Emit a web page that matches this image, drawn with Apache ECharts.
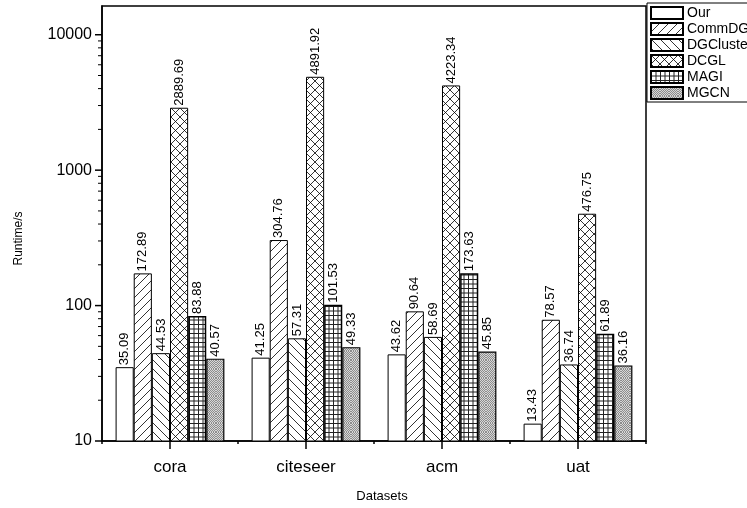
<!DOCTYPE html>
<html>
<head>
<meta charset="utf-8">
<script src="https://cdn.jsdelivr.net/npm/echarts@6/dist/echarts.min.js"></script>
<style>html,body{margin:0;padding:0;background:#fff;}#c{width:747px;height:508px;}</style>
</head>
<body>
<div id="c"></div>
<script>
var categories = ['cora', 'citeseer', 'acm', 'uat'];
var seriesNames = ['Our', 'CommDGC', 'DGCluster', 'DCGL', 'MAGI', 'MGCN'];
var ourVals = [35.09, 41.25, 43.62, 13.43];
var commdgcVals = [172.89, 304.76, 90.64, 78.57];
var dgclusterVals = [44.53, 57.31, 58.69, 36.74];
var dcglVals = [2889.69, 4891.92, 4223.34, 476.75];
var magiVals = [83.88, 101.53, 173.63, 61.89];
var mgcnVals = [40.57, 49.33, 45.85, 36.16];
var yTickLabels = [10, 100, 1000, 10000];
var yMinorTicks = [20, 30, 40, 50, 60, 70, 80, 90,
                   200, 300, 400, 500, 600, 700, 800, 900,
                   2000, 3000, 4000, 5000, 6000, 7000, 8000, 9000];

function makePattern(kind) {
  var s = 9;
  var cv = document.createElement('canvas');
  cv.width = s; cv.height = s;
  var g = cv.getContext('2d');
  g.fillStyle = '#fff';
  g.fillRect(0, 0, s, s);
  g.strokeStyle = '#000';
  g.lineWidth = 0.8;
  function line(x1, y1, x2, y2) { g.beginPath(); g.moveTo(x1, y1); g.lineTo(x2, y2); g.stroke(); }
  if (kind === 'fwd' || kind === 'cross') {
    line(-1, s + 1, s + 1, -1);
    line(-1, 1, 1, -1);
    line(s - 1, s + 1, s + 1, s - 1);
  }
  if (kind === 'back' || kind === 'cross') {
    line(-1, -1, s + 1, s + 1);
    line(s - 1, -1, s + 1, 1);
    line(-1, s - 1, 1, s + 1);
  }
  if (kind === 'grid') {
    g.lineWidth = 1;
    g.strokeStyle = '#222';
    line(0.5, 0, 0.5, s);
    line(5, 0, 5, s);
    line(0, 0.5, s, 0.5);
    line(0, 5, s, 5);
  }
  if (kind === 'dots') {
    for (var y = 0; y < s; y++) {
      for (var x = 0; x < s; x++) {
        g.fillStyle = ((x + y) % 2 === 0) ? '#8c8c8c' : '#d6d6d6';
        g.fillRect(x, y, 1, 1);
      }
    }
  }
  return { image: cv, repeat: 'repeat' };
}

var patterns = ['#ffffff', makePattern('fwd'), makePattern('back'), makePattern('cross'), makePattern('grid'), makePattern('dots')];
var allVals = [ourVals, commdgcVals, dgclusterVals, dcglVals, magiVals, mgcnVals];
var borderWidths = [1, 1, 1, 1, 1.5, 1.2];

var series = seriesNames.map(function (name, i) {
  return {
    name: name,
    type: 'bar',
    data: allVals[i],
    barGap: '0%',
    barCategoryGap: '20%',
    itemStyle: { color: patterns[i], borderColor: '#000', borderWidth: borderWidths[i] },
    label: {
      show: true,
      position: 'top',
      rotate: 90,
      align: 'left',
      verticalAlign: 'middle',
      distance: 2,
      fontSize: 13,
      color: '#000',
      formatter: function (p) { return p.value.toFixed(2); }
    }
  };
});
series.push({
  type: 'bar', xAxisIndex: 1, data: [], silent: true
});

function tickItem(len, width) {
  return function (params, api) {
    var p = api.coord([0, api.value(1)]);
    var bw = api.size([1, 0])[0];
    var x = p[0] - bw / 2;
    return {
      type: 'line',
      shape: { x1: x - len, y1: p[1], x2: x, y2: p[1] },
      style: { stroke: '#000', lineWidth: width }
    };
  };
}
series.push({
  type: 'custom', silent: true, z: 5, clip: false,
  data: yTickLabels.map(function (v) { return [0, v]; }),
  renderItem: tickItem(7, 1.5)
});
series.push({
  type: 'custom', silent: true, z: 5, clip: false,
  data: yMinorTicks.map(function (v) { return [0, v]; }),
  renderItem: tickItem(4, 1)
});

var chart = echarts.init(document.getElementById('c'), null, { renderer: 'canvas' });
chart.setOption({
  animation: false,
  backgroundColor: '#fff',
  textStyle: { fontFamily: 'Liberation Sans, Arial, sans-serif', color: '#000' },
  grid: { left: 102, right: 101, top: 6, bottom: 63, show: true, borderColor: '#000', borderWidth: 1.5, backgroundColor: 'transparent' },
  legend: {
    data: seriesNames,
    orient: 'vertical',
    left: 647,
    top: 3,
    padding: [3, 40, 2, 3],
    itemWidth: 32,
    itemHeight: 12,
    itemGap: 2,
    borderColor: '#000',
    borderWidth: 1,
    backgroundColor: '#fff',
    icon: 'rect',
    textStyle: { fontSize: 14, color: '#000', padding: [0, 0, 0, -1] }
  },
  xAxis: [{
    type: 'category',
    data: categories,
    position: 'bottom',
    name: 'Datasets',
    nameLocation: 'middle',
    nameGap: 49,
    nameTextStyle: { fontSize: 13, color: '#000', padding: [0, 0, 0, 16] },
    axisLine: { lineStyle: { color: '#000', width: 1.5 } },
    axisTick: { show: true, alignWithLabel: true, length: 8, lineStyle: { color: '#000', width: 1.5 } },
    axisLabel: { fontSize: 17, color: '#000', margin: 18 },
    splitLine: { show: false }
  }, {
    type: 'category',
    data: categories,
    position: 'bottom',
    axisLine: { show: false },
    axisTick: { show: true, length: 3, lineStyle: { color: '#000', width: 1.5 } },
    axisLabel: { show: false },
    splitLine: { show: false }
  }],
  yAxis: {
    type: 'log',
    logBase: 10,
    min: 10,
    max: 16300,
    name: 'Runtime/s',
    nameLocation: 'middle',
    nameRotate: 90,
    nameGap: 77,
    nameTextStyle: { fontSize: 12, color: '#000', padding: [0, 30, 0, 0] },
    axisLine: { show: true, lineStyle: { color: '#000', width: 1.5 } },
    axisTick: { show: false },
    minorTick: { show: false },
    axisLabel: {
      fontSize: 16, color: '#000', margin: 10,
      formatter: function (v) { return yTickLabels.indexOf(Math.round(v)) >= 0 ? String(Math.round(v)) : ''; }
    },
    splitLine: { show: false }
  },
  series: series
});
</script>
</body>
</html>
